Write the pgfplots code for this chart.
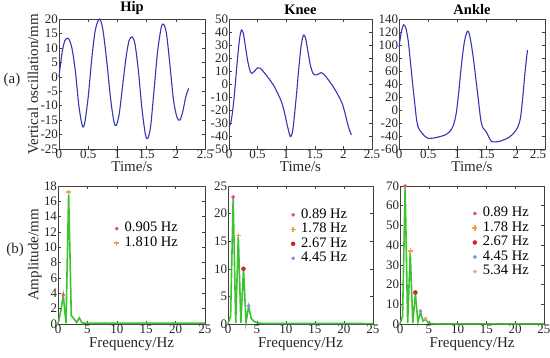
\documentclass[border=0pt]{standalone}
\usepackage{fontspec}
\setmainfont{Liberation Serif}
\usepackage{pgfplots}
\pgfplotsset{compat=1.18}
\definecolor{curveblue}{HTML}{3636B4}
\definecolor{specgreen}{HTML}{3EC232}
\definecolor{mpink}{HTML}{E84A8A}
\definecolor{morange}{HTML}{F2A04A}
\definecolor{mred}{HTML}{D42222}
\definecolor{mblue}{HTML}{8090EC}
\definecolor{mrose}{HTML}{E8A2A2}
\definecolor{axgray}{HTML}{404040}
\pgfplotsset{
  base/.style={
    scale only axis, anchor=south west,
    tick align=inside, major tick length=3pt,
    axis line style={draw=axgray, line width=0.6pt},
    every tick/.style={axgray, line width=0.5pt},
    tick label style={font=\fontsize{13}{13}\selectfont, text=black!85, inner sep=0.8pt},
    label style={font=\fontsize{15}{15}\selectfont, text=black!85},
    title style={font=\fontsize{14.5}{15}\selectfont\bfseries, yshift=-5pt},
    /pgf/number format/assume math mode=true,
    scaled ticks=false,
    clip=false,
  },
  top/.style={base, width=#1, height=130pt, xmin=0, xmax=2.5,
    xtick={0,0.5,1,1.5,2,2.5}, xlabel={Time/s},
    xlabel style={yshift=1.5pt}},
  bot/.style={base, width=#1, height=138pt, xmin=0, xmax=25,
    xtick={0,5,10,15,20,25}, xlabel={Frequency/Hz},
    xlabel style={yshift=0pt},
    legend cell align=left,
    legend image code/.code={\draw[##1] plot coordinates {(0.1cm,0cm)};
      \path[draw=none, fill=none] (0.36cm,0cm) circle (0pt);},
    legend style={draw=none, fill=none, inner sep=0pt, row sep=0pt,
      font=\fontsize{14.5}{14.5}\selectfont,
      nodes={inner sep=0.6pt, text height=10pt, text depth=3.3pt}}},
  bl/.style={curveblue, line width=1.1pt, smooth, tension=0.5},
  gr/.style={specgreen, line width=1.6pt},
  pk/.style={only marks, mark=*, mark size=1.7pt, mpink},
  og/.style={only marks, mark=+, mark size=2.6pt, draw=morange, color=morange, mark options={line width=1.5pt, draw=morange}},
  rd/.style={only marks, mark=*, mark size=2pt, mred},
  bu/.style={only marks, mark=*, mark size=1.7pt, mblue},
  rs/.style={only marks, mark=*, mark size=1.7pt, mrose},
}
\begin{document}
\begin{tikzpicture}
\useasboundingbox (0,0) rectangle (550pt,357pt);
% ---------- top row ----------
\begin{axis}[top=146pt, at={(59pt,208pt)}, ymin=-25, ymax=20,
  ytick={-25,-20,-15,-10,-5,0,5,10,15,20}, title={Hip},
  ylabel={Vertical oscillation/mm}, ylabel style={yshift=-2pt}]
\addplot[bl] coordinates {
(0,0) (0.05,8) (0.1,12.5) (0.16,13.3) (0.22,10) (0.28,2) (0.34,-10) (0.4,-17)
(0.44,-16) (0.5,-7) (0.56,6) (0.62,16) (0.69,20) (0.75,16.5) (0.82,5) (0.88,-7)
(0.94,-15.5) (0.98,-16.8) (1.03,-13) (1.09,-3) (1.15,7) (1.2,12.5) (1.25,13.8)
(1.3,11.5) (1.36,2) (1.42,-11) (1.48,-20) (1.52,-21.3) (1.57,-17) (1.63,-4)
(1.69,9) (1.75,17) (1.79,18.2) (1.84,15) (1.9,4) (1.96,-8) (2.02,-14) (2.07,-15)
(2.12,-12) (2.17,-7) (2.22,-4)};
\end{axis}
\begin{axis}[top=143pt, at={(229pt,208pt)}, ymin=-50, ymax=50,
  ytick={-50,-40,-30,-20,-10,0,10,20,30,40,50}, title={Knee}]
\addplot[bl] coordinates {
(0,-33) (0.03,-30) (0.06,-22) (0.09,-10) (0.12,5) (0.15,20) (0.18,33) (0.2,39)
(0.22,41.5) (0.25,39) (0.29,28) (0.33,17) (0.37,10) (0.4,8.2) (0.45,10) (0.5,12.5)
(0.55,12) (0.62,8.5) (0.7,4) (0.78,-1) (0.85,-7) (0.92,-14) (0.97,-22) (1.02,-32)
(1.06,-39) (1.08,-40.5) (1.11,-37) (1.14,-26) (1.18,-8) (1.22,12) (1.26,29)
(1.29,36) (1.31,37.7) (1.34,35) (1.38,25) (1.42,15) (1.46,9) (1.5,7) (1.56,7.5)
(1.61,8.7) (1.67,7) (1.74,3) (1.82,-2) (1.9,-8) (1.97,-14) (2.02,-21) (2.07,-30)
(2.11,-36) (2.14,-39)};
\end{axis}
\begin{axis}[top=146pt, at={(399pt,208pt)}, ymin=-60, ymax=140,
  ytick={-60,-40,-20,0,20,40,60,80,100,120,140}, title={Ankle},
  xticklabels={0,0.5,1,1.5,2,{\makebox[0pt][c]{\hspace*{-14pt}2.5}}}]
\addplot[bl] coordinates {
(0,97) (0.04,120) (0.08,131) (0.12,125) (0.16,105) (0.2,70) (0.24,35) (0.27,10)
(0.3,-14) (0.33,-27) (0.38,-34) (0.44,-40) (0.5,-43.6) (0.6,-43) (0.7,-41)
(0.8,-38) (0.87,-33) (0.93,-24) (0.98,-5) (1.02,25) (1.07,70) (1.12,105)
(1.17,121) (1.2,118) (1.24,100) (1.28,75) (1.32,45) (1.36,15) (1.4,-15)
(1.44,-28) (1.49,-33) (1.53,-40) (1.58,-48) (1.65,-49) (1.73,-48) (1.82,-45)
(1.9,-41) (1.97,-35) (2.03,-27) (2.08,-12) (2.12,20) (2.16,60) (2.2,92)};
\end{axis}
% ---------- bottom row ----------
\begin{axis}[bot=147pt, at={(58pt,33pt)}, ymin=0, ymax=18,
  ytick={0,2,4,6,8,10,12,14,16,18}, ylabel={Amplitude/mm}, ylabel style={yshift=-2pt},
  legend style={at={(0.38,0.745)}, anchor=north west}]
\addplot[gr, forget plot] coordinates {
(0,0) (0.45,1.6) (0.905,3.7) (1.36,0.1) (1.81,17.0) (2.26,1.1) (2.71,0.7)
(3.17,0.2) (3.62,0.8) (4.07,0.15) (5,0.1) (25,0.1)};
\addplot[pk] coordinates {(0.905,3.8)};
\addplot[og] coordinates {(1.81,17.2)};
\legend{0.905 Hz, 1.810 Hz}
\end{axis}
\begin{axis}[bot=145pt, at={(228pt,33pt)}, ymin=0, ymax=25,
  ytick={0,5,10,15,20,25},
  legend style={at={(0.43,0.845)}, anchor=north west}]
\addplot[gr, forget plot] coordinates {
(0,0) (0.45,1.5) (0.89,22.8) (1.33,0.2) (1.78,15.9) (2.22,0.2) (2.67,10)
(3.11,0.3) (3.56,3.2) (4.0,1.0) (4.45,0.5) (5.0,0.2) (6,0.1) (25,0.08)};
\addplot[pk] coordinates {(0.89,23)};
\addplot[og] coordinates {(1.78,16)};
\addplot[rd] coordinates {(2.67,10)};
\addplot[bu] coordinates {(3.56,3.3)};
\legend{0.89 Hz, 1.78 Hz, 2.67 Hz, 4.45 Hz}
\end{axis}
\begin{axis}[bot=144pt, at={(400pt,33pt)}, ymin=0, ymax=70,
  ytick={0,10,20,30,40,50,60,70},
  legend style={at={(0.5,0.855)}, anchor=north west}]
\addplot[gr, forget plot] coordinates {
(0,0) (0.45,4) (0.89,69.5) (1.33,0.5) (1.78,36.5) (2.22,0.5) (2.67,15.5)
(3.11,1) (3.56,6) (4.0,1.5) (4.45,2.5) (4.9,0.5) (5.34,0.3) (6,0.1) (25,0.1)};
\addplot[pk] coordinates {(0.89,70)};
\addplot[og] coordinates {(1.78,37)};
\addplot[rd] coordinates {(2.67,16)};
\addplot[bu] coordinates {(3.56,6.5)};
\addplot[rs] coordinates {(4.45,2.8)};
\legend{0.89 Hz, 1.78 Hz, 2.67 Hz, 4.45 Hz, 5.34 Hz}
\end{axis}
\node[font=\fontsize{15}{15}\selectfont, text=black!85] at (12pt,277pt) {(a)};
\node[font=\fontsize{15}{15}\selectfont, text=black!85] at (15pt,107pt) {(b)};
\end{tikzpicture}
\end{document}
